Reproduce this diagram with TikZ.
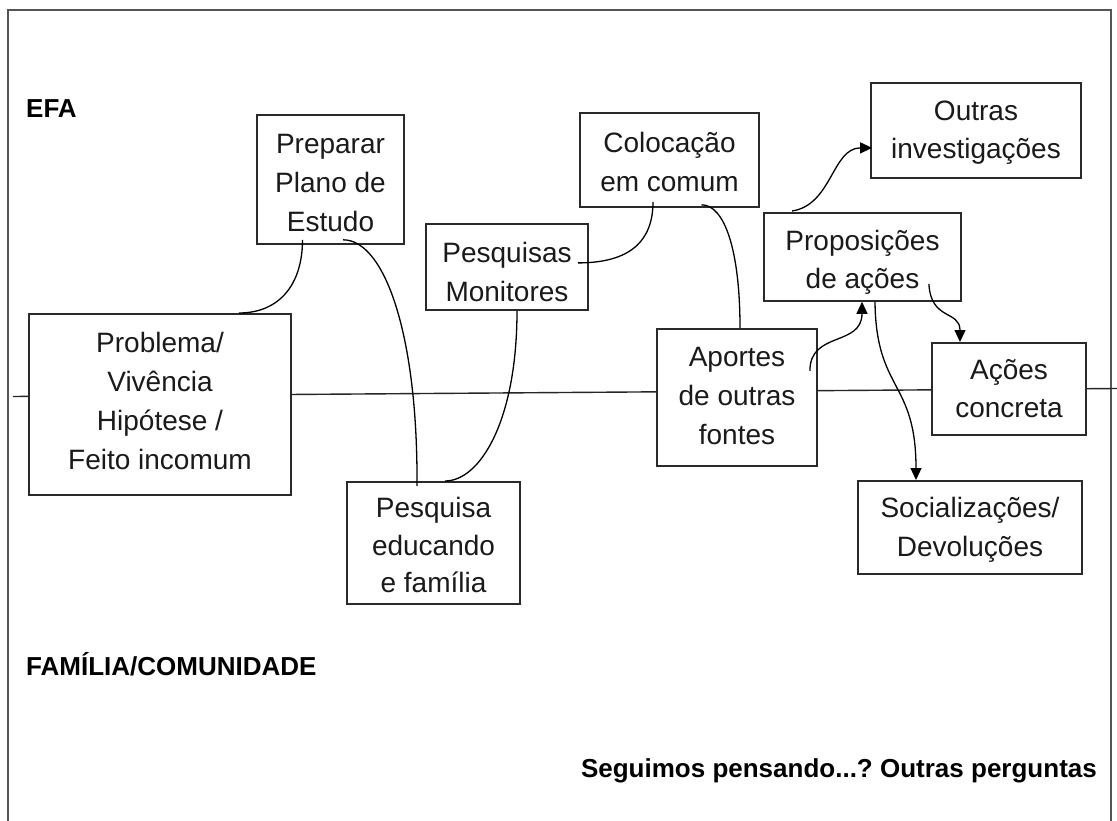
\documentclass[tikz,border=0pt]{standalone}
\usepackage{fontspec}
\setmainfont{Liberation Sans}
\usetikzlibrary{arrows.meta}
\definecolor{boxc}{HTML}{2A2A2A}
\definecolor{framec}{HTML}{555555}
\definecolor{txtc}{HTML}{1A1A1A}
\newcommand{\bxt}[1]{\begin{tabular}[t]{@{}c@{}}#1\end{tabular}}
\frenchspacing
\begin{document}
\begin{tikzpicture}[x=1pt,y=-1pt,
  box/.style={draw=boxc, line width=1.8pt, fill=white, inner sep=0pt, anchor=north,
    font=\fontsize{28}{39}\selectfont, text=txtc},
  tight/.style={font=\fontsize{28}{37.5}\selectfont},
  conn/.style={draw=black, line width=1.3pt},
  arr/.style={conn, -{Triangle[length=12pt,width=11pt]}},
  lbl/.style={inner sep=0pt, text=black, font=\bfseries\fontsize{26}{30}\selectfont}]
\useasboundingbox (0,0) rectangle (1117,821);
\fill[white] (0,0) rectangle (1117,821);
% frame
\draw[framec, line width=1.8pt] (8,821) -- (8,10) -- (1111,10) -- (1111,821);
% axis
\coordinate (axL) at (13,396.5);
\coordinate (axR) at (1117,388.5);
\draw[black!85, line width=1.4pt] (axL) -- (axR);
% boxes
\node[box, minimum width=262pt, text height=39pt, text depth=142pt] (prob) at (160,313)
  {\bxt{Problema/\\Vivência\\Hipótese /\\Feito incomum}};
\node[box, minimum width=147pt, text height=39pt, text depth=90pt] (prep) at (330.5,114)
  {\bxt{Preparar\\Plano de\\Estudo}};
\node[box, tight, minimum width=173pt, text height=36pt, text depth=86pt] (pesqe) at (433.5,481)
  {\bxt{Pesquisa\\educando\\e família}};
\node[box, minimum width=162pt, text height=39pt, text depth=47pt] (pesqm) at (507,223)
  {\bxt{Pesquisas\\Monitores}};
\node[box, minimum width=179pt, text height=40pt, text depth=54pt] (coloc) at (669.5,112)
  {\bxt{Colocação\\em comum}};
\node[box, tight, minimum width=210pt, text height=38pt, text depth=57pt] (outras) at (976,82)
  {\bxt{Outras\\investigações}};
\node[box, tight, minimum width=197pt, text height=38pt, text depth=50pt] (prop) at (862.5,212)
  {\bxt{Proposições\\de ações}};
\node[box, minimum width=160pt, text height=38pt, text depth=99pt] (aport) at (737,328)
  {\bxt{Aportes\\de outras\\fontes}};
\node[box, tight, minimum width=154pt, text height=37pt, text depth=55pt] (acoes) at (1009,342)
  {\bxt{Ações\\concreta}};
\node[box, minimum width=224pt, text height=37pt, text depth=56pt] (social) at (970,480)
  {\bxt{Socializações/\\Devoluções}};
% connectors
\draw[conn] ([shift={(-28,-5)}]prep.south) .. controls +(0,45) and +(40,0) .. ([shift={(79,0)}]prob.north);
\draw[conn] ([shift={(12.5,-5)}]prep.south) .. controls +(42,0) and +(1,-150) .. ([shift={(-16.5,5)}]pesqe.north);
\draw[conn] ([shift={(10,0)}]pesqm.south) .. controls +(0,110) and +(35,0) .. ([shift={(11.5,0)}]pesqe.north);
\draw[conn] ([shift={(-11,-4)}]pesqm.east) .. controls +(45,0) and +(0,45) .. ([shift={(-16.5,-6)}]coloc.south);
\draw[conn] ([shift={(32,-3)}]coloc.south) .. controls +(23,0) and +(0,-78) .. ([shift={(3,0)}]aport.north);
\draw[arr] ([shift={(-70.5,-1)}]prop.north) .. controls +(40,-6) and +(-40,0) .. ([shift={(2,17.5)}]outras.west);
\draw[arr] ([shift={(-8,-26.5)}]aport.east) .. controls +(0,-40) and +(0,45) .. ([shift={(-0.5,0)}]prop.south);
\draw[arr] ([shift={(12.5,0)}]prop.south) .. controls +(1,90) and +(0,-100) .. ([shift={(-54,0)}]social.north);
\draw[arr] ([shift={(-33,27)}]prop.east) .. controls +(2,37) and +(0,-32) .. ([shift={(-49,0)}]acoes.north);
% labels
\node[lbl, anchor=base west] (efa) at (26,118) {EFA};
\node[lbl, anchor=base west] (fam) at (26,675) {FAMÍLIA/COMUNIDADE};
\node[lbl, anchor=base east] (seg) at (1097,777) {Seguimos pensando...? Outras perguntas};
\end{tikzpicture}
\end{document}
